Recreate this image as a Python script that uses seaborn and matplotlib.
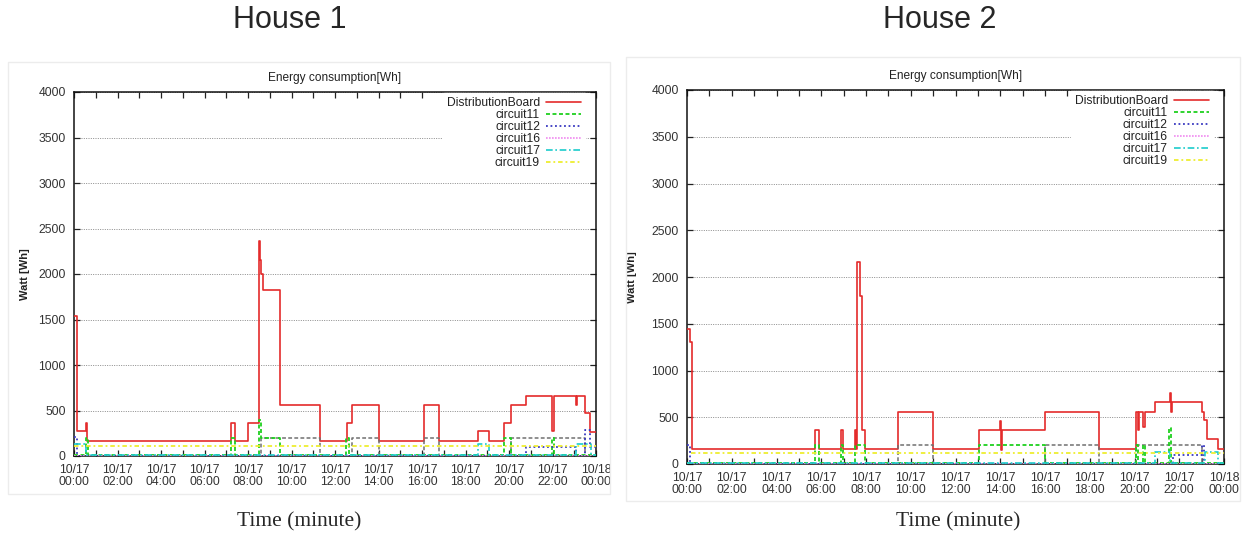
#!/usr/bin/env python3

import matplotlib
matplotlib.use("Agg")
import matplotlib.pyplot as plt
import pandas as pd
import seaborn as sns

# x axis: hours of 10/17
hour_ticks = [0, 2, 4, 6, 8, 10, 12, 14, 16, 18, 20, 22, 24]
tick_labels = ["10/17\n00:00", "10/17\n02:00", "10/17\n04:00", "10/17\n06:00",
               "10/17\n08:00", "10/17\n10:00", "10/17\n12:00", "10/17\n14:00",
               "10/17\n16:00", "10/17\n18:00", "10/17\n20:00", "10/17\n22:00",
               "10/18\n00:00"]
watt_ticks = [0, 500, 1000, 1500, 2000, 2500, 3000, 3500, 4000]

# ---- House 1 : step change points (hour, watt) ----
h1_board_t = [0, 0.12, 0.55, 0.62, 7.2, 7.42, 8.0, 8.5, 8.56, 8.6, 8.7, 9.45, 11.3,
              12.54, 12.77, 14.0, 16.1, 16.8, 18.56, 19.1, 19.76, 20.1, 20.8, 21.99,
              22.07, 23.06, 23.12, 23.5, 23.72, 24]
h1_board_v = [1540, 270, 360, 165, 360, 165, 360, 2360, 2150, 2000, 1820, 560, 165,
              360, 560, 165, 560, 165, 270, 165, 360, 560, 660, 280,
              660, 560, 660, 470, 265, 265]
h1_c11_t = [0, 0.55, 0.65, 7.2, 7.42, 8.5, 8.6, 9.45, 12.5, 12.65, 19.76, 20.1, 21.98, 22.08, 24]
h1_c11_v = [10, 200, 10, 200, 10, 400, 200, 10, 200, 10, 200, 10, 200, 10, 10]
h1_c12_t = [0, 0.15, 20.8, 23.08, 23.5, 23.72, 24]
h1_c12_v = [210, 5, 100, 5, 290, 100, 100]
h1_c16_t = [0, 24]
h1_c16_v = [0, 0]
h1_c17_t = [0, 0.55, 18.56, 19.1, 23.08, 23.75, 24]
h1_c17_v = [130, 10, 130, 10, 130, 10, 10]
h1_c19_t = [0, 24]
h1_c19_v = [110, 110]
h1_other_t = [0, 8.6, 11.3, 12.77, 14.0, 16.1, 16.8, 20.1, 23.5, 24]
h1_other_v = [5, 200, 5, 200, 5, 200, 5, 200, 5, 5]

# ---- House 2 ----
h2_board_t = [0, 0.15, 0.22, 5.73, 5.9, 6.88, 6.95, 7.5, 7.56, 7.6, 7.72, 7.8, 7.97,
              9.41, 10.99, 13.03, 13.98, 14.02, 14.06, 16.0, 18.42, 20.07, 20.14, 20.2,
              20.4, 20.45, 20.91, 21.58, 21.63, 21.68, 23.03, 23.1, 23.22, 23.75, 24]
h2_board_v = [1440, 1300, 160, 360, 160, 360, 160, 360, 160, 2160, 1800, 360, 160,
              560, 160, 360, 460, 150, 360, 560, 160, 560, 360, 560,
              400, 560, 660, 760, 560, 660, 560, 470, 270, 160, 160]
h2_c11_t = [0, 5.73, 5.9, 6.88, 6.95, 7.5, 7.97, 13.03, 16.0, 20.07, 20.15, 20.4, 20.48,
            21.55, 21.65, 24]
h2_c11_v = [10, 200, 10, 200, 10, 200, 10, 200, 10, 200, 10, 200, 10, 390, 10, 10]
h2_c12_t = [0, 0.15, 21.7, 23.0, 23.12, 24]
h2_c12_v = [200, 5, 100, 200, 5, 5]
h2_c16_t = [0, 24]
h2_c16_v = [0, 0]
h2_c17_t = [0, 20.91, 21.6, 23.15, 23.75, 24]
h2_c17_v = [10, 130, 10, 130, 10, 10]
h2_c19_t = [0.2, 24]
h2_c19_v = [120, 120]
h2_other_t = [0, 9.41, 10.99, 16.0, 18.42, 20.07, 23.03, 24]
h2_other_v = [5, 200, 5, 200, 5, 200, 5, 5]

styles = {
    "DistributionBoard": ("#e42b2b", "-", 1.2),
    "circuit11": ("#1fd01f", (0, (2.2, 1.4)), 1.3),
    "circuit12": ("#3838c0", (0, (1, 1.5)), 1.3),
    "circuit16": ("#f08af0", (0, (1, 0.8)), 1.2),
    "circuit17": ("#1ccccc", (0, (4, 1.6, 1, 1.6)), 1.2),
    "circuit19": ("#eeee30", (0, (2.5, 1.6, 1, 1.6)), 1.3),
    "_other": ("#707070", (0, (2.5, 1.5)), 1.1),
}

houses = [
    {"board": (h1_board_t, h1_board_v), "circuit11": (h1_c11_t, h1_c11_v),
     "circuit12": (h1_c12_t, h1_c12_v), "circuit16": (h1_c16_t, h1_c16_v),
     "circuit17": (h1_c17_t, h1_c17_v), "circuit19": (h1_c19_t, h1_c19_v),
     "_other": (h1_other_t, h1_other_v)},
    {"board": (h2_board_t, h2_board_v), "circuit11": (h2_c11_t, h2_c11_v),
     "circuit12": (h2_c12_t, h2_c12_v), "circuit16": (h2_c16_t, h2_c16_v),
     "circuit17": (h2_c17_t, h2_c17_v), "circuit19": (h2_c19_t, h2_c19_v),
     "_other": (h2_other_t, h2_other_v)},
]

sns.set_theme(style="white")
plt.rcParams['font.family'] = ['Liberation Sans', 'DejaVu Sans']

fig = plt.figure(figsize=(12.5, 5.36), dpi=100)
fig.patch.set_facecolor("white")

# axes boxes in figure fractions (left, bottom, width, height)
boxes = [[74 / 1250, 1 - 456 / 536, 522 / 1250, 364 / 536],
         [687 / 1250, 1 - 464 / 536, 537 / 1250, 374 / 536]]

# faint frame of the original gnuplot screenshots
for (x0, y0, w, h) in [(8, 62, 602, 432), (626, 57, 614, 444)]:
    fig.patches.append(plt.Rectangle((x0 / 1250, 1 - (y0 + h) / 536), w / 1250, h / 536,
                                     transform=fig.transFigure, fill=False,
                                     edgecolor="#ececec", lw=1.0))

order = ["board", "_other", "circuit11", "circuit12", "circuit16", "circuit17", "circuit19"]
legend_order = ["DistributionBoard", "circuit11", "circuit12", "circuit16", "circuit17", "circuit19"]

for i, house in enumerate(houses):
    ax = fig.add_axes(boxes[i])
    handles = {}
    for key in order:
        name = "DistributionBoard" if key == "board" else key
        color, ls, lw = styles[name]
        t, v = house[key]
        df = pd.DataFrame({"hour": t, "watt": v})
        sns.lineplot(data=df, x="hour", y="watt", ax=ax, color=color, linestyle=ls,
                     linewidth=lw, drawstyle="steps-post", estimator=None, sort=False,
                     zorder=3 if key == "board" else 4)
        handles[name] = ax.lines[-1]

    ax.set_xlim(0, 24)
    ax.set_ylim(0, 4000)
    ax.set_xticks(hour_ticks)
    ax.set_xticklabels(tick_labels, fontsize=8.7, color="#333333", linespacing=1.05)
    ax.set_xticks(range(1, 24, 2), minor=True)
    ax.set_yticks(watt_ticks)
    ax.set_yticklabels([str(w) for w in watt_ticks], fontsize=8.7, color="#333333")
    ax.tick_params(axis="both", which="both", direction="in", top=True, right=True,
                   bottom=True, left=True, length=4, width=0.9, color="#222222")
    ax.tick_params(axis="x", which="major", pad=5.5)
    ax.tick_params(axis="y", which="major", pad=6)
    ax.yaxis.grid(True, linestyle=(0, (1, 1.4)), color="#8a8a8a", linewidth=0.7)
    ax.xaxis.grid(False)
    for s in ax.spines.values():
        s.set_color("#111111")
        s.set_linewidth(1.1)
        s.set_visible(True)

    ax.set_title("Energy consumption[Wh]", fontsize=8.6, pad=8, color="#222222")
    ax.set_ylabel("Watt [Wh]", fontsize=8, fontweight="bold", color="#222222")
    ax.yaxis.set_label_coords(-0.085 if i == 0 else -0.093, 0.5)
    ax.set_xlabel("")

    leg = ax.legend([handles[n] for n in legend_order], legend_order, loc="upper right",
                    bbox_to_anchor=(1 - 10 / 522, 1.0), markerfirst=False, frameon=True,
                    fancybox=False, framealpha=1, facecolor="white", edgecolor="white",
                    fontsize=8.7, handlelength=2.9, handletextpad=0.5, labelspacing=0.0,
                    borderpad=0.3, borderaxespad=0.1)
    leg.set_zorder(10)
    for txt in leg.get_texts():
        txt.set_color("#222222")

fig.text(290 / 1250, 1 - 20 / 536, "House 1", ha="center", va="center", fontsize=22)
fig.text(940 / 1250, 1 - 20 / 536, "House 2", ha="center", va="center", fontsize=22)
fig.text(299 / 1250, 1 - 522 / 536, "Time (minute)", ha="center", va="center",
         fontsize=15.5, family=["Liberation Serif", "DejaVu Serif"])
fig.text(958 / 1250, 1 - 522 / 536, "Time (minute)", ha="center", va="center",
         fontsize=15.5, family=["Liberation Serif", "DejaVu Serif"])

plt.savefig("out.png", dpi=100)
plt.close(fig)
